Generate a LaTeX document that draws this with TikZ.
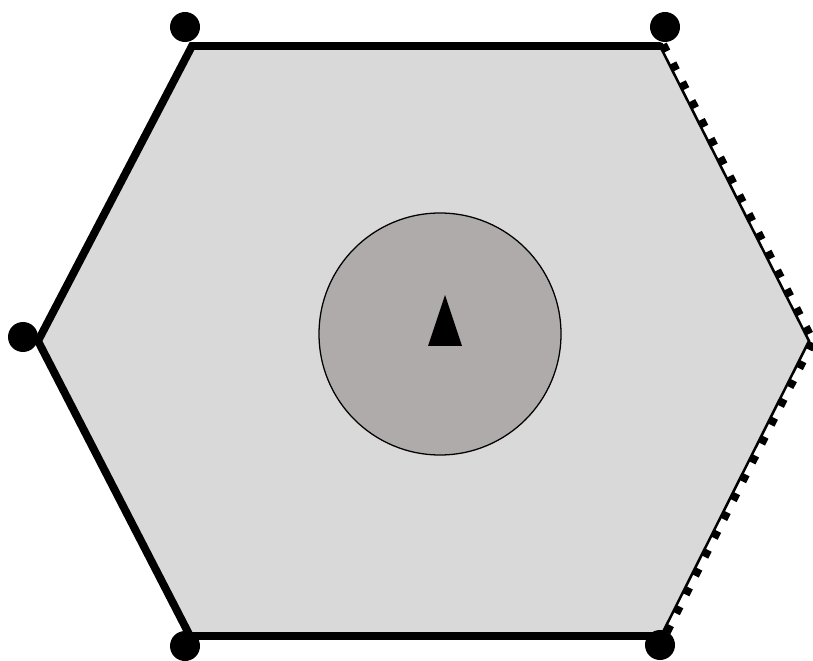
\documentclass[tikz,border=0pt]{standalone}
\definecolor{cellfill}{HTML}{D9D9D9}
\definecolor{corefill}{HTML}{AFABAB}
\usepackage{tikz}
\usetikzlibrary{calc}

\begin{document}
\begin{tikzpicture}[x=0.025cm, y=-0.025cm,
  wall/.style={line width=5.6pt, line join=miter, line cap=round},
  open/.style={line width=1.8pt},
  hatch/.style={line width=5pt, dash pattern=on 5.5pt off 9.5pt, line cap=butt},
  corner/.style={fill=black}]
  \useasboundingbox (0,0) rectangle (813,661);
  % hexagon corners
  \coordinate (tl) at (192,46);
  \coordinate (tr) at (660,46);
  \coordinate (r)  at (809,341);
  \coordinate (br) at (661,636);
  \coordinate (bl) at (190,636);
  \coordinate (l)  at (38,341);
  % cell
  \fill[cellfill] (tl) -- (tr) -- (r) -- (br) -- (bl) -- (l) -- cycle;
  % solid walls
  \draw[wall] (tr) -- (tl) -- (l) -- (bl) -- (br);
  % open side
  \draw[open] (tr) -- (r) -- (br);
  \draw[hatch] ($(tr)+(3.6,-1.8)$) -- ($(r)+(3.6,-1.8)$);
  \draw[hatch] ($(r)+(3.6,1.8)$) -- ($(br)+(3.6,1.8)$);
  % corner dots
  \fill[corner] (185,27) circle (15);
  \fill[corner] (665,27) circle (15);
  \fill[corner] (23,337) circle (15);
  \fill[corner] (185,646) circle (15);
  \fill[corner] (660,645) circle (15);
  % core
  \draw[fill=corefill, line width=0.9pt] (440,334) circle (121);
  \fill (445,295) -- (462,346) -- (428,346) -- cycle;
\end{tikzpicture}
\end{document}
